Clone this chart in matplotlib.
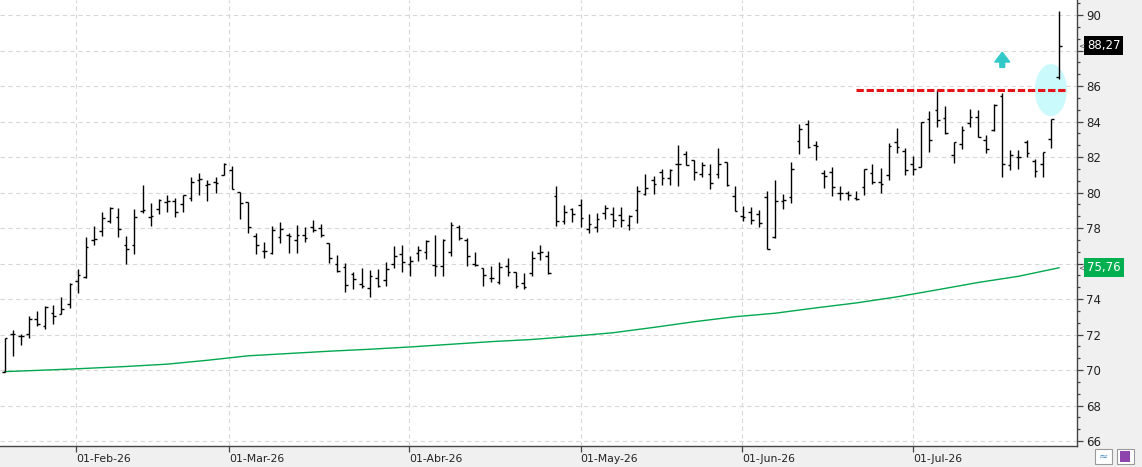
import numpy as np
import matplotlib
matplotlib.use("Agg")
import matplotlib.pyplot as plt
from matplotlib.patches import Ellipse, Rectangle
from matplotlib.ticker import MultipleLocator

# daily OHLC (one entry per session)
opens = [69.91, 72.03, 71.93, 72.03, 72.85, 72.50, 73.19, 73.17, 73.72, 75.00,
         75.22, 77.32, 77.83, 78.39, 78.64, 77.02, 77.02, 78.98, 78.64, 79.05,
         79.45, 79.50, 79.33, 79.67, 80.70, 80.42, 80.57, 80.97, 81.27, 80.01,
         79.45, 77.57, 76.70, 76.61, 77.49, 77.61, 77.32, 77.61, 78.08, 78.00,
         77.14, 75.99, 75.80, 75.39, 74.86, 74.64, 75.20, 75.09, 75.97, 76.52,
         75.97, 76.59, 76.67, 75.92, 75.84, 76.67, 78.04, 77.34, 75.99, 75.77,
         75.20, 74.96, 75.86, 75.52, 74.92, 75.48, 76.61, 76.40, 79.82, 78.41,
         79.07, 79.29, 77.97, 78.07, 78.85, 78.78, 78.76, 78.16, 79.00, 79.94,
         80.69, 81.16, 80.79, 81.58, 82.16, 81.82, 81.07, 81.07, 81.07, 81.73,
         79.83, 78.67, 78.91, 78.78, 79.76, 77.50, 79.51, 79.72, 82.90, 83.88,
         82.68, 81.09, 81.18, 79.96, 79.96, 79.70, 80.30, 81.09, 80.58, 80.96,
         82.84, 82.35, 81.60, 81.43, 84.13, 84.66, 84.19, 82.12, 82.74, 83.91,
         84.24, 82.97, 83.53, 85.41, 81.56, 82.00, 82.87, 81.75, 81.60, 83.00,
         86.50]
highs = [71.78, 72.25, 72.03, 73.04, 73.32, 73.61, 73.64, 74.11, 74.88, 75.67,
         77.47, 78.11, 78.88, 79.16, 79.11, 77.55, 79.05, 80.42, 79.39, 79.63,
         79.86, 79.67, 79.88, 80.85, 81.08, 80.70, 80.85, 81.68, 81.49, 80.03,
         79.45, 77.70, 77.19, 78.11, 78.36, 77.70, 78.15, 78.06, 78.43, 78.24,
         77.14, 76.50, 76.03, 75.50, 75.73, 75.65, 75.71, 76.10, 77.00, 77.06,
         76.40, 77.00, 77.34, 77.62, 77.38, 78.36, 78.17, 77.43, 76.65, 75.77,
         75.88, 76.08, 76.29, 75.54, 75.45, 76.70, 77.02, 76.69, 80.35, 79.28,
         79.13, 79.62, 78.78, 78.82, 79.32, 79.19, 79.19, 78.72, 80.36, 81.03,
         80.92, 81.35, 81.35, 82.67, 82.35, 81.82, 81.73, 81.63, 82.48, 81.73,
         80.36, 79.23, 79.19, 79.04, 80.07, 80.73, 79.91, 81.73, 83.88, 84.10,
         82.92, 81.28, 81.43, 80.38, 80.06, 80.10, 81.31, 81.62, 81.37, 82.78,
         83.62, 82.50, 82.03, 84.00, 84.62, 85.75, 84.88, 82.84, 83.76, 84.69,
         84.66, 83.25, 85.00, 85.60, 82.40, 82.40, 82.97, 81.88, 82.31, 84.13,
         90.23]
lows = [69.91, 70.79, 71.41, 71.78, 72.50, 72.29, 72.57, 73.14, 73.51, 74.36,
        75.16, 77.04, 77.55, 78.26, 77.51, 75.99, 76.55, 78.83, 78.13, 78.79,
        78.92, 78.60, 78.92, 79.54, 79.84, 79.54, 79.99, 80.97, 80.18, 78.53,
        77.74, 76.52, 76.33, 76.52, 77.14, 76.57, 76.57, 77.19, 77.76, 77.49,
        76.03, 75.52, 74.38, 74.56, 74.62, 74.11, 74.68, 74.75, 75.73, 75.50,
        75.28, 76.12, 76.25, 75.31, 75.31, 76.40, 77.34, 75.84, 75.84, 74.71,
        74.94, 74.85, 75.31, 74.62, 74.56, 75.28, 76.18, 75.43, 78.09, 78.24,
        78.32, 78.03, 77.73, 77.75, 78.52, 78.07, 78.07, 77.88, 78.29, 79.85,
        79.89, 80.45, 80.45, 80.38, 81.54, 80.69, 80.88, 80.19, 80.79, 80.36,
        78.95, 78.40, 78.22, 78.07, 76.79, 77.46, 79.06, 79.42, 82.17, 82.51,
        81.85, 80.24, 79.83, 79.59, 79.59, 79.60, 79.87, 80.49, 79.96, 80.68,
        82.22, 81.00, 81.00, 81.43, 82.31, 83.68, 83.31, 81.69, 82.44, 83.68,
        83.12, 82.22, 83.49, 80.86, 81.28, 81.31, 81.99, 80.90, 80.90, 82.50,
        86.39]
closes = [71.78, 72.03, 71.93, 72.85, 72.57, 73.57, 73.06, 73.44, 74.85, 75.33,
          76.91, 77.36, 78.58, 79.11, 77.92, 76.80, 78.60, 79.01, 78.68, 79.60,
          79.50, 78.90, 79.88, 80.57, 80.74, 80.48, 80.52, 81.61, 80.18, 79.43,
          78.08, 77.02, 76.70, 77.89, 77.92, 77.55, 77.59, 77.42, 77.91, 77.61,
          76.31, 75.56, 74.79, 75.15, 74.71, 75.30, 74.73, 75.71, 76.42, 76.08,
          76.16, 76.78, 77.29, 75.84, 77.34, 78.17, 77.46, 76.44, 75.90, 75.35,
          75.20, 75.78, 75.54, 74.73, 74.69, 76.31, 76.65, 75.46, 78.41, 78.92,
          78.81, 78.59, 78.20, 78.50, 79.15, 78.44, 78.44, 78.67, 80.09, 80.28,
          80.47, 80.79, 81.26, 81.60, 81.54, 81.13, 81.54, 80.51, 81.63, 80.41,
          78.97, 78.63, 78.44, 78.29, 76.79, 79.51, 79.57, 81.30, 83.58, 82.54,
          82.64, 80.94, 80.30, 79.96, 79.87, 79.62, 81.31, 80.62, 80.47, 82.63,
          82.59, 81.28, 81.31, 84.00, 82.97, 84.09, 83.38, 82.84, 83.53, 84.24,
          83.12, 82.44, 84.94, 81.60, 82.12, 82.00, 82.22, 81.24, 82.31, 84.13,
          88.27]

# long moving average, sampled at some sessions
ma_idx = [0, 8, 15, 20, 25, 30, 35, 40, 45, 50, 55, 60, 65,
          70, 75, 80, 85, 90, 95, 100, 105, 110, 115, 120, 125, 130]
ma_val = [69.91, 70.05, 70.20, 70.33, 70.55, 70.80, 70.93, 71.06, 71.17, 71.30,
          71.45, 71.60, 71.72, 71.90, 72.10, 72.40, 72.72, 73.00, 73.20, 73.50,
          73.78, 74.12, 74.52, 74.93, 75.28, 75.76]

month_pos = [8.77, 27.66, 49.9, 71.0, 90.96, 112.05]
month_lbl = ["01-Feb-26", "01-Mar-26", "01-Abr-26", "01-May-26", "01-Jun-26", "01-Jul-26"]

y_ticks = list(range(66, 91, 2))
# 76 and 88 sit under the value boxes
y_lbls = ["" if v in (76, 88) else str(v) for v in y_ticks]

resistance = 85.77
last_price = "88,27"
last_ma = "75,76"

W, H = 1142, 467
fig = plt.figure(figsize=(W / 100, H / 100), dpi=100, facecolor="#f0f0f0")
ax = fig.add_axes([0, 21 / H, 1076.7 / W, 446 / H])
ax.set_facecolor("white")

x = np.arange(len(opens))
ax.set_xlim(-0.58, 132.18)
ax.set_ylim(65.72, 90.845)

# grid
ax.set_yticks(y_ticks, y_lbls)
ax.yaxis.set_minor_locator(MultipleLocator(2 / 3))
ax.set_xticks(month_pos, month_lbl)
ax.grid(True, which="major", color="#d8d8d8", linestyle=(0, (4, 3)), linewidth=0.8)
ax.set_axisbelow(True)

# highlight ellipse + arrow
ax.add_patch(Ellipse((129.0, resistance), 3.95, 2.93, facecolor="#cbfafc",
                     edgecolor="none", zorder=1))
ax.arrow(123.0, 87.05, 0, 0.85, width=0.6, head_width=1.85, head_length=0.55,
         length_includes_head=True, color="#33c9c9", zorder=2)

# moving average
ax.plot(ma_idx, ma_val, color="#00a84f", linewidth=1.0, zorder=2)

# OHLC bars
tk = 0.33
ax.vlines(x, lows, highs, color="black", linewidth=1.0, zorder=3)
ax.hlines(opens, x - tk, x, color="black", linewidth=1.0, zorder=3)
ax.hlines(closes, x, x + tk, color="black", linewidth=1.0, zorder=3)

# resistance line
ax.hlines(resistance, 105.0, 130.9, colors="#e5141b", linewidth=2.2,
          linestyles=(0, (2.4, 0.9)), zorder=4)

# axes styling
for s in ["top", "left"]:
    ax.spines[s].set_visible(False)
for s in ["right", "bottom"]:
    ax.spines[s].set_color("#444444")
    ax.spines[s].set_linewidth(1.0)
ax.yaxis.tick_right()
ax.tick_params(axis="y", which="major", length=4, width=0.9, color="#444444",
               pad=3, labelsize=8.5, labelcolor="#222222")
ax.tick_params(axis="y", which="minor", length=2.5, width=0.9, color="#444444")
ax.tick_params(axis="x", length=4.5, width=0.9, color="#444444", pad=1,
               labelsize=7.8, labelcolor="#222222")
for lab in ax.get_xticklabels():
    lab.set_horizontalalignment("left")

# value boxes on the price scale
trans = ax.get_yaxis_transform()
ax.text(1.0095, 88.27, last_price, transform=trans, va="center", ha="left",
        fontsize=8.5, color="white", clip_on=False, zorder=6,
        bbox=dict(boxstyle="square,pad=0.25", facecolor="black", edgecolor="none"))
ax.text(1.0095, 75.76, last_ma, transform=trans, va="center", ha="left",
        fontsize=8.5, color="white", clip_on=False, zorder=6,
        bbox=dict(boxstyle="square,pad=0.25", facecolor="#00b050", edgecolor="none"))
for v in [88.27, 75.76]:
    ax.text(1.0012, v, "<", transform=trans, va="center", ha="left",
            fontsize=6, color="#555555", clip_on=False, zorder=6)

# small toolbar buttons at bottom right
fig.patches.append(Rectangle((1095 / W, 3 / H), 17 / W, 15 / H, transform=fig.transFigure,
                             facecolor="white", edgecolor="#9a9a9a", linewidth=0.8))
fig.patches.append(Rectangle((1117 / W, 3 / H), 17 / W, 15 / H, transform=fig.transFigure,
                             facecolor="white", edgecolor="#9a9a9a", linewidth=0.8))
fig.patches.append(Rectangle((1120 / W, 5 / H), 10 / W, 11 / H, transform=fig.transFigure,
                             facecolor="#8e44ad", edgecolor="none"))
fig.text(1103.5 / W, 10.5 / H, "≈", ha="center", va="center", fontsize=8, color="#4a90c8")

fig.savefig("out.png", dpi=100, facecolor=fig.get_facecolor())
